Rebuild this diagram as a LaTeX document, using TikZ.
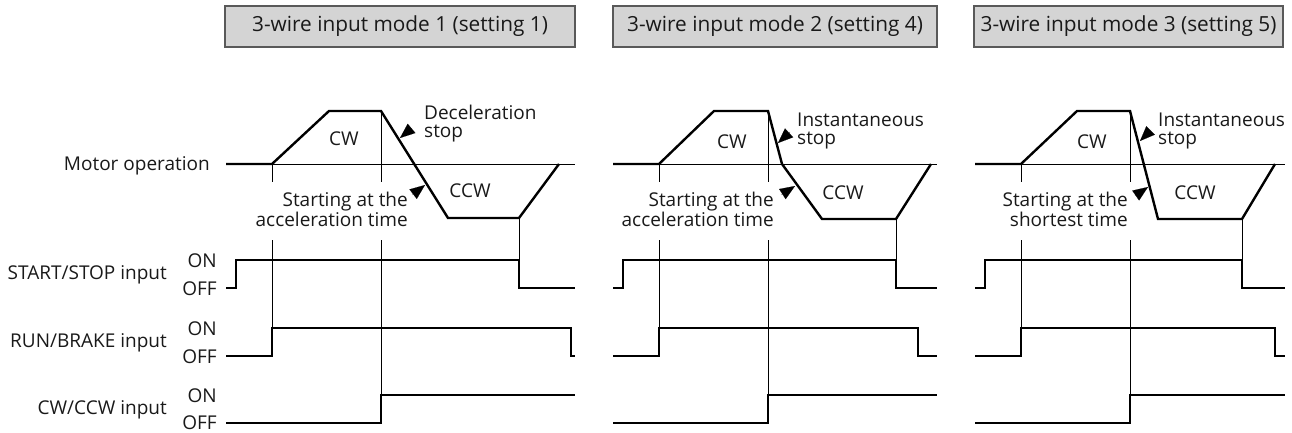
\documentclass[tikz,border=0pt]{standalone}
\usepackage{fontspec}
\setmainfont{Open Sans}
\usetikzlibrary{arrows.meta}
\begin{document}
\begin{tikzpicture}[x=1pt,y=-1pt,
  sig/.style={line width=2.4pt, line join=miter, line cap=butt},
  guide/.style={line width=0.9pt},
  lbl/.style={inner sep=0pt, font=\fontsize{19}{18}\selectfont, text=black!90},
  titlebox/.style={draw=black!65, fill=black!17, line width=1.1pt, minimum height=41pt, inner sep=0pt, font=\fontsize{20.8}{20}\selectfont, text=black!90},
  pointer/.style={-{Triangle[length=15pt,width=12pt]}, line width=0.1pt}
]
\useasboundingbox (0,0) rectangle (1292,433);

% title boxes
\node[titlebox, minimum width=350pt] (t1) at (400,26.5) {3-wire input mode 1 (setting 1)};
\node[titlebox, minimum width=324pt] (t2) at (775,26.5) {3-wire input mode 2 (setting 4)};
\node[titlebox, minimum width=309pt] (t3) at (1128.5,26.5) {3-wire input mode 3 (setting 5)};

% left labels
\node[lbl, anchor=east] (mo) at (210,166) {Motor operation};
\node[lbl, anchor=east] (ss) at (167,275) {START/STOP input};
\node[lbl, anchor=east] (rb) at (167,343) {RUN/BRAKE input};
\node[lbl, anchor=east] (cc) at (167,410) {CW/CCW input};
\node[lbl, anchor=east] (on1) at (217,261) {ON};
\node[lbl, anchor=east] (off1) at (217,289) {OFF};
\node[lbl, anchor=east] (on2) at (217,329) {ON};
\node[lbl, anchor=east] (off2) at (217,357) {OFF};
\node[lbl, anchor=east] (on3) at (217,396) {ON};
\node[lbl, anchor=east] (off3) at (217,423) {OFF};

% ===== panel 1 =====
\draw[guide] (226,164) -- (575,164);
\draw[guide] (272,164) -- (272,182) (272,240) -- (272,328);
\draw[guide] (381,111) -- (381,182) (381,240) -- (381,395);
\draw[guide] (519,218) -- (519,260);
\draw[sig] (226,164) -- (272,164) -- (329,111) -- (381,111) -- (448,218) -- (519,218) -- (559,164);
\draw[sig] (226,288) -- (236,288) -- (236,260) -- (519,260) -- (519,288) -- (575,288);
\draw[sig] (226,356) -- (272,356) -- (272,328) -- (571,328) -- (571,356) -- (575,356);
\draw[sig] (226,423) -- (381,423) -- (381,395) -- (575,395);
\node[lbl] (cw1) at (344,139) {CW};
\node[lbl] (ccw1) at (470,191) {CCW};
\node[lbl, anchor=west, align=left] (d1) at (424,124) {Deceleration\\stop};
\node[lbl, anchor=east, align=right] (s1) at (408,209) {Starting at the\\acceleration time};
\coordinate (a1b) at (412,128); \coordinate (a1t) at (400,138);
\coordinate (b1b) at (412,195); \coordinate (b1t) at (425,185);
\draw[pointer] (a1b) -- (a1t);
\draw[pointer] (b1b) -- (b1t);

% ===== panel 2 =====
\draw[guide] (613,164) -- (937,164);
\draw[guide] (659,164) -- (659,182) (659,240) -- (659,328);
\draw[guide] (768,111) -- (768,182) (768,240) -- (768,395);
\draw[guide] (896,219) -- (896,260);
\draw[sig] (613,164) -- (659,164) -- (714,111) -- (768,111) -- (782,164) -- (822,219) -- (896,219) -- (931,164);
\draw[sig] (613,288) -- (623,288) -- (623,260) -- (896,260) -- (896,288) -- (937,288);
\draw[sig] (613,356) -- (659,356) -- (659,328) -- (918,328) -- (918,356) -- (937,356);
\draw[sig] (613,423) -- (768,423) -- (768,395) -- (937,395);
\node[lbl] (cw2) at (732,142) {CW};
\node[lbl] (ccw2) at (843,193) {CCW};
\node[lbl, anchor=west, align=left] (d2) at (797,131) {Instantaneous\\stop};
\node[lbl, anchor=east, align=right] (s2) at (774,209) {Starting at the\\acceleration time};
\coordinate (a2b) at (790,132); \coordinate (a2t) at (778,143);
\coordinate (b2b) at (781,195); \coordinate (b2t) at (795,186);
\draw[pointer] (a2b) -- (a2t);
\draw[pointer] (b2b) -- (b2t);

% ===== panel 3 =====
\draw[guide] (975,164) -- (1285,164);
\draw[guide] (1021,164) -- (1021,182) (1021,240) -- (1021,328);
\draw[guide] (1130,111) -- (1130,182) (1130,240) -- (1130,395);
\draw[guide] (1242,219) -- (1242,260);
\draw[sig] (975,164) -- (1021,164) -- (1077,111) -- (1130,111) -- (1158,219) -- (1242,219) -- (1275,164);
\draw[sig] (975,288) -- (985,288) -- (985,260) -- (1242,260) -- (1242,288) -- (1285,288);
\draw[sig] (975,356) -- (1021,356) -- (1021,328) -- (1275,328) -- (1275,356) -- (1285,356);
\draw[sig] (975,423) -- (1130,423) -- (1130,395) -- (1285,395);
\node[lbl] (cw3) at (1092,142) {CW};
\node[lbl] (ccw3) at (1195,193) {CCW};
\node[lbl, anchor=west, align=left] (d3) at (1158,131) {Instantaneous\\stop};
\node[lbl, anchor=east, align=right] (s3) at (1128,209) {Starting at the\\shortest time};
\coordinate (a3b) at (1151,130); \coordinate (a3t) at (1140,141);
\coordinate (b3b) at (1135,196); \coordinate (b3t) at (1148,187);
\draw[pointer] (a3b) -- (a3t);
\draw[pointer] (b3b) -- (b3t);
\end{tikzpicture}
\end{document}
